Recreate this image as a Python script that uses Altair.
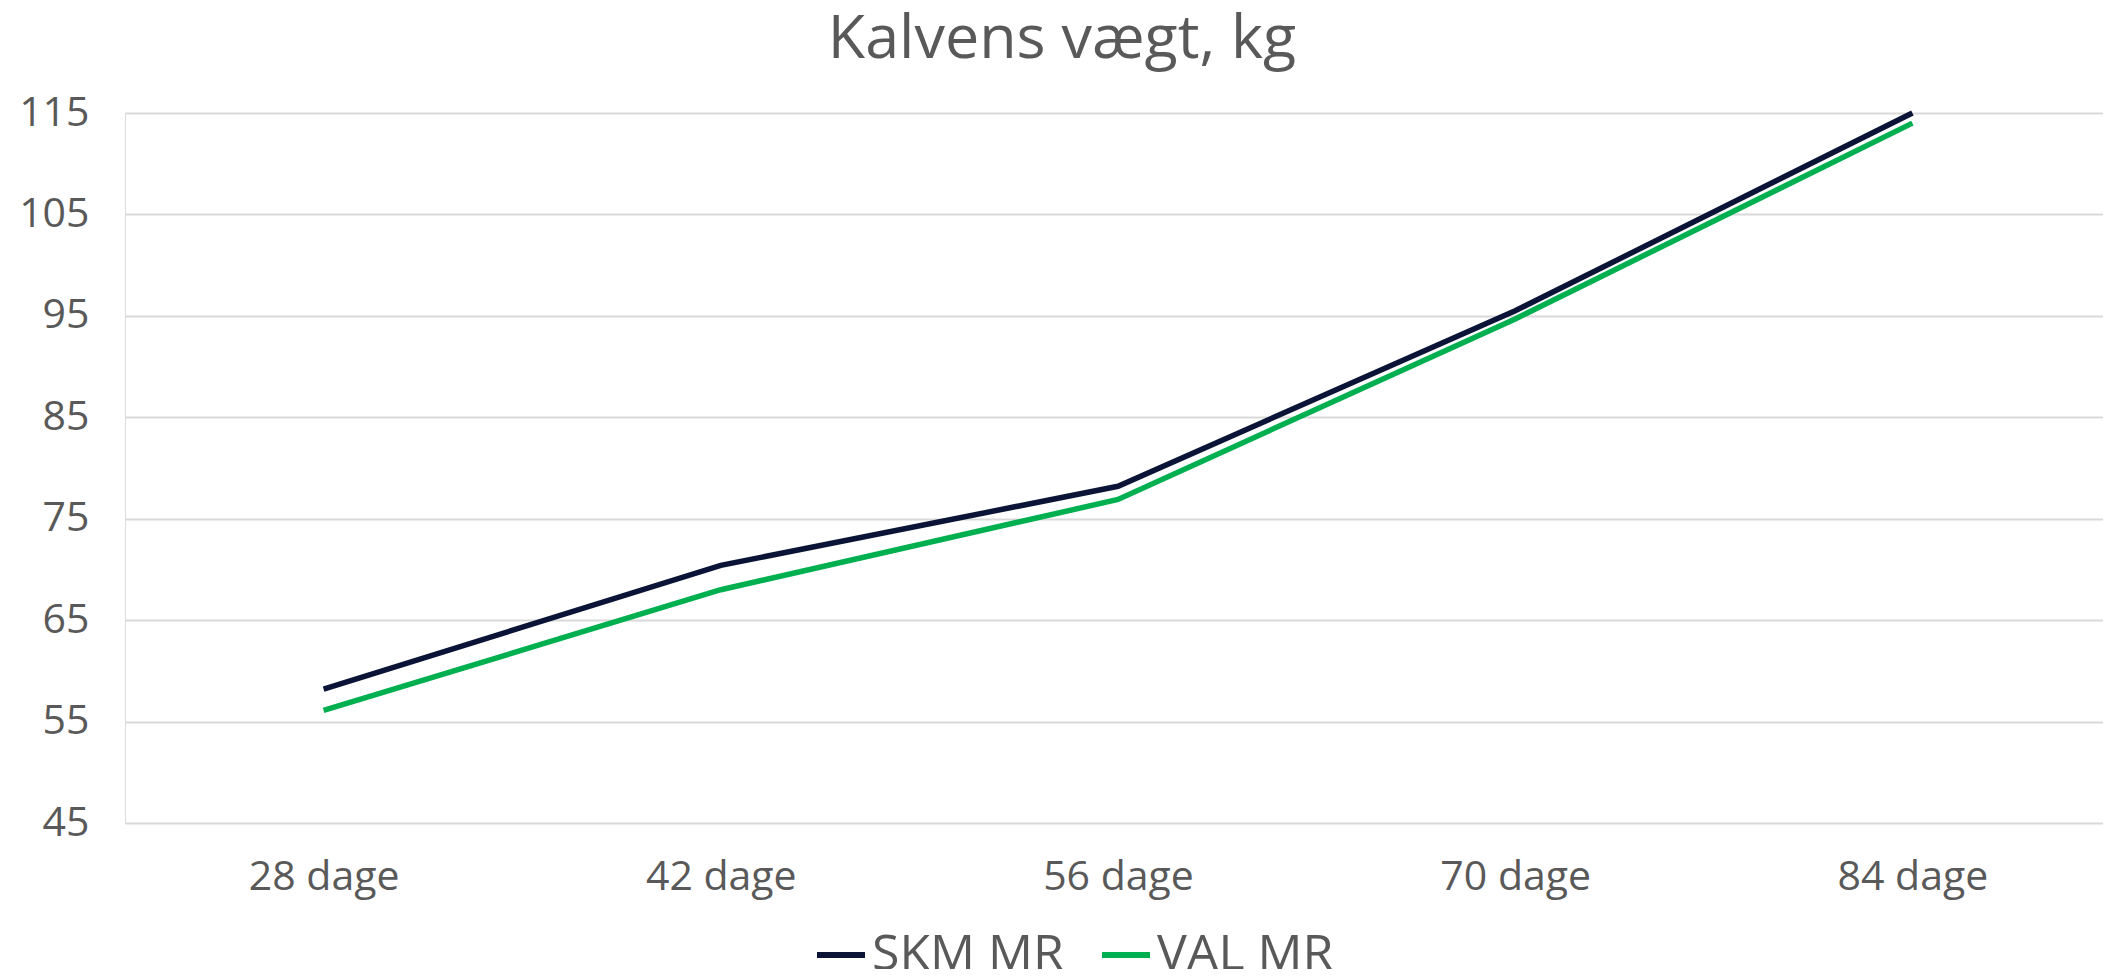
import altair as alt
import pandas as pd

categories = ["28 dage", "42 dage", "56 dage", "70 dage", "84 dage"]
skm_mr = [58.2, 70.4, 78.2, 95.5, 115.0]
val_mr = [56.1, 68.0, 76.9, 94.7, 114.0]
series_names = ["SKM MR", "VAL MR"]
series_colors = ["#0b1437", "#00b050"]
y_ticks = [45, 55, 65, 75, 85, 95, 105, 115]

rows = []
for name, vals in zip(series_names, [skm_mr, val_mr]):
    for c, v in zip(categories, vals):
        rows.append({"Dage": c, "Serie": name, "Vægt": v})
df = pd.DataFrame(rows)

FONT = "Open Sans"
TXT = "#595959"

chart = (
    alt.Chart(df)
    .mark_line(strokeWidth=5.5, strokeCap="butt", strokeJoin="miter")
    .encode(
        x=alt.X(
            "Dage:N",
            sort=categories,
            scale=alt.Scale(range=[0, 1986], paddingInner=0, paddingOuter=0),
            axis=alt.Axis(
                title=None,
                domain=False,
                ticks=False,
                grid=False,
                labelAngle=0,
                labelFont=FONT,
                labelFontSize=41,
                labelColor=TXT,
                labelPadding=34,
            ),
        ),
        y=alt.Y(
            "Vægt:Q",
            scale=alt.Scale(domain=[45, 115], nice=False, zero=False),
            axis=alt.Axis(
                title=None,
                values=y_ticks,
                domain=False,
                ticks=False,
                grid=True,
                gridColor="#d9d9d9",
                gridWidth=2,
                labelFont=FONT,
                labelFontSize=41,
                labelColor=TXT,
                labelPadding=36,
            ),
        ),
        color=alt.Color(
            "Serie:N",
            sort=series_names,
            scale=alt.Scale(domain=series_names, range=series_colors),
            legend=alt.Legend(
                title=None,
                orient="none",
                direction="horizontal",
                legendX=689,
                legendY=815,
                symbolType="stroke",
                symbolSize=2304,
                symbolStrokeWidth=6,
                labelFont=FONT,
                labelFontSize=50,
                labelColor=TXT,
                labelOffset=4,
                labelLimit=500,
                columnPadding=26,
            ),
        ),
    )
    .properties(
        width=1978,
        height=710,
        title=alt.TitleParams(
            "Kalvens vægt, kg",
            font=FONT,
            fontSize=61,
            fontWeight="normal",
            color=TXT,
            anchor="middle",
            frame="group",
            dx=-52,
            offset=21,
        ),
        autosize=alt.AutoSizeParams(type="none"),
        padding={"left": 117, "top": 105, "right": 0, "bottom": 146},
    )
    .configure_view(stroke=None)
    .configure(background="white")
)

chart.save("out.html", embed_options={"renderer": "svg", "actions": False})
